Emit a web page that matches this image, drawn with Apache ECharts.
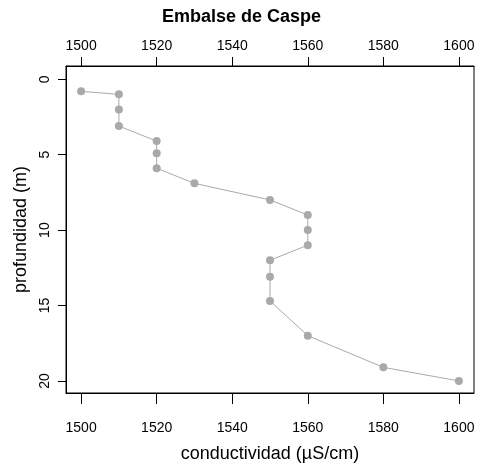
<!DOCTYPE html>
<html>
<head>
<meta charset="utf-8">
<script src="https://cdn.jsdelivr.net/npm/echarts@6/dist/echarts.min.js"></script>
<style>
  html, body { margin: 0; padding: 0; background: #fff; }
  #chart { width: 483px; height: 468px; }
</style>
</head>
<body>
<div id="chart"></div>
<script>
// datos
const conductividad = [1500, 1510, 1510, 1510, 1520, 1520, 1520, 1530, 1550, 1560, 1560, 1560, 1550, 1550, 1550, 1560, 1580, 1600];
const profundidad = [0.8, 1.0, 2.0, 3.1, 4.1, 4.9, 5.9, 6.9, 8.0, 9.0, 10.0, 11.0, 12.0, 13.1, 14.7, 17.0, 19.1, 20.0];
const xTicks = [1500, 1520, 1540, 1560, 1580, 1600];
const yTicks = [0, 5, 10, 15, 20];

const font = 'Liberation Sans, Arial, sans-serif';
const grey = '#a9a9a9';

const chart = echarts.init(document.getElementById('chart'));

const puntos = conductividad.map((c, i) => [c, profundidad[i]]);

// eje x comun (abajo y arriba)
const ejeX = (pos, tickLen, margin) => ({
  type: 'value',
  position: pos,
  min: 1496,
  max: 1604,
  splitLine: { show: false },
  axisLine: { show: true, onZero: false, lineStyle: { color: '#000', width: 1 } },
  axisTick: { show: true, length: tickLen, customValues: xTicks, lineStyle: { color: '#000' } },
  axisLabel: {
    customValues: xTicks, margin: margin, color: '#000', fontSize: 14, fontFamily: font,
    formatter: v => String(v)
  }
});

const option = {
  animation: false,
  title: {
    text: 'Embalse de Caspe',
    left: 'center',
    top: 8,
    padding: 0,
    textStyle: { fontSize: 18, fontWeight: 'bold', color: '#000', fontFamily: font }
  },
  grid: {
    left: 66, right: 9, top: 66, bottom: 75,
    show: true, borderColor: '#000', borderWidth: 1
  },
  xAxis: [
    Object.assign(ejeX('bottom', 11, 28), {
      name: 'conductividad (µS/cm)',
      nameLocation: 'middle',
      nameGap: 52,
      nameTextStyle: { fontSize: 18, color: '#000', fontFamily: font }
    }),
    ejeX('top', 9, 13)
  ],
  yAxis: {
    type: 'value',
    inverse: true,
    min: -0.88,
    max: 20.8,
    name: 'profundidad (m)',
    nameLocation: 'middle',
    nameGap: 31,
    nameTextStyle: { fontSize: 18, color: '#000', fontFamily: font },
    splitLine: { show: false },
    axisLine: { show: true, onZero: false, lineStyle: { color: '#000', width: 1 } },
    axisTick: { show: true, length: 8, customValues: yTicks, lineStyle: { color: '#000' } },
    axisLabel: {
      customValues: yTicks, rotate: 90, margin: 14, color: '#000', fontSize: 14, fontFamily: font,
      formatter: v => String(v)
    }
  },
  series: [{
    type: 'line',
    xAxisIndex: 0,
    data: puntos,
    symbol: 'circle',
    symbolSize: 8,
    itemStyle: { color: grey },
    lineStyle: { color: grey, width: 1 }
  }]
};

chart.setOption(option);
</script>
</body>
</html>
